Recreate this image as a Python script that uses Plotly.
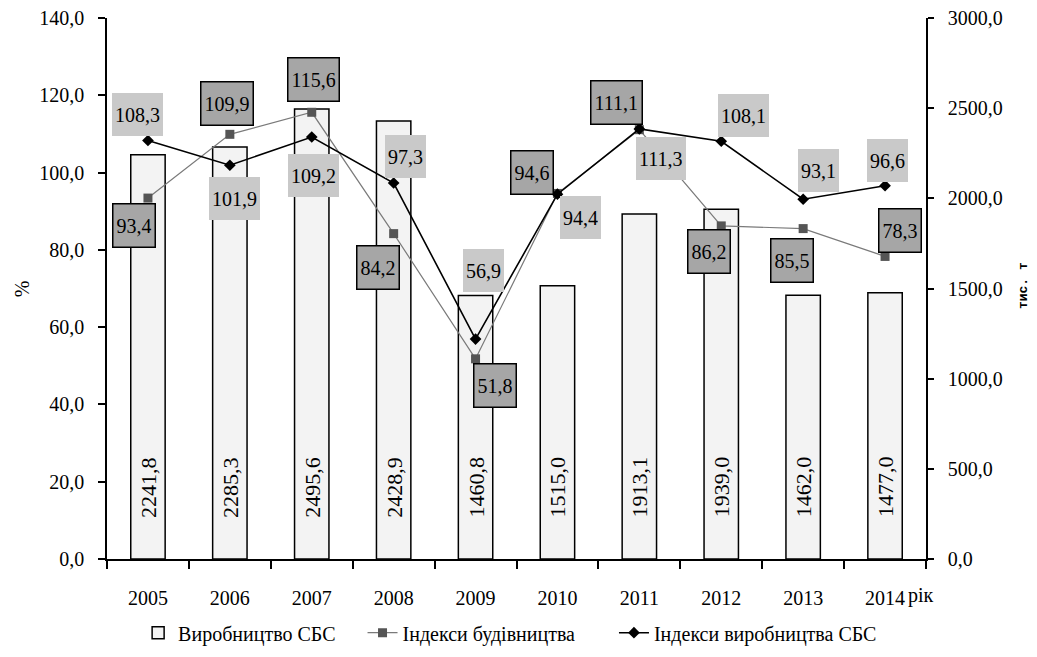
import plotly.graph_objects as go

# ---- data ----
years = ["2005", "2006", "2007", "2008", "2009", "2010", "2011", "2012", "2013", "2014"]
output_sbs = [2241.8, 2285.3, 2495.6, 2428.9, 1460.8, 1515.0, 1913.1, 1939.0, 1462.0, 1477.0]
construction_index = [93.4, 109.9, 115.6, 84.2, 51.8, 94.6, 111.1, 86.2, 85.5, 78.3]
production_index = [108.3, 101.9, 109.2, 97.3, 56.9, 94.4, 111.3, 108.1, 93.1, 96.6]

# label placement (pixel offsets from each point: dx right, dy down)
construction_label_offsets = [(-14, 27), (-3, -31), (2, -33), (-16, 34), (19, 27),
                              (-25, -21), (-23, -27), (-12, 26), (-11, 32), (15, -26)]
production_label_offsets = [(-10, -26), (5, 33), (2, 38), (12, -27), (8, -69),
                            (23, 23), (22, 30), (22, -26), (15, -29), (2, -25)]

SERIF = "Liberation Serif"
FS = 20


def fmt(v):
    return f"{v:.1f}".replace(".", ",")


fig = go.Figure()

fig.add_trace(go.Bar(
    x=years, y=output_sbs, yaxis="y", name="Виробництво СБС",
    width=0.42,
    marker=dict(color="#f3f3f3", line=dict(color="black", width=1.5)),
    legend="legend",
))

fig.add_trace(go.Scatter(
    x=years, y=construction_index, yaxis="y2", name="Індекси будівництва",
    mode="lines+markers",
    line=dict(color="#7a7a7a", width=1.2),
    marker=dict(symbol="square", size=9, color="#555555"),
    legend="legend2",
))

fig.add_trace(go.Scatter(
    x=years, y=production_index, yaxis="y2", name="Індекси виробництва СБС",
    mode="lines+markers",
    line=dict(color="black", width=1.6),
    marker=dict(symbol="diamond", size=9, color="black"),
    legend="legend3",
))

annotations = []

# values written up the bars (x given as category position)
for i, v in enumerate(output_sbs):
    annotations.append(dict(
        x=i, xref="x", y=0.133, yref="paper", text=fmt(v), textangle=-90,
        xanchor="center", yanchor="middle",
        showarrow=False, font=dict(family=SERIF, size=22, color="black"),
    ))

# boxed index labels
for i, (v, (dx, dy)) in enumerate(zip(construction_index, construction_label_offsets)):
    annotations.append(dict(
        x=i, xref="x", y=v, yref="y2", text=fmt(v), showarrow=False,
        xanchor="center", yanchor="middle",
        xshift=dx, yshift=-dy, height=36, borderpad=3,
        bgcolor="#a6a6a6", bordercolor="black", borderwidth=1.5,
        font=dict(family=SERIF, size=FS, color="black"),
    ))
for i, (v, (dx, dy)) in enumerate(zip(production_index, production_label_offsets)):
    annotations.append(dict(
        x=i, xref="x", y=v, yref="y2", text=fmt(v), showarrow=False,
        xanchor="center", yanchor="middle",
        xshift=dx, yshift=-dy, height=37, borderpad=3,
        bgcolor="#c9c9c9", borderwidth=0,
        font=dict(family=SERIF, size=FS, color="black"),
    ))

# axis titles
annotations.append(dict(x=-0.104, y=0.5, xref="paper", yref="paper", text="%",
                        textangle=-90, showarrow=False, xanchor="center", yanchor="middle",
                        font=dict(family=SERIF, size=FS, color="black")))
annotations.append(dict(x=1.12, y=0.505, xref="paper", yref="paper", text="<b>тис. т</b>",
                        textangle=-90, showarrow=False, xanchor="center", yanchor="middle",
                        font=dict(family="Liberation Mono", size=13, color="black")))
annotations.append(dict(x=0.994, y=-0.068, xref="paper", yref="paper", text="рік",
                        showarrow=False, xanchor="center", yanchor="middle",
                        font=dict(family=SERIF, size=FS, color="black")))

legend_common = dict(orientation="h", yref="container", yanchor="middle", y=0.037,
                     xanchor="left",
                     font=dict(family=SERIF, size=FS, color="black"),
                     bgcolor="rgba(0,0,0,0)", borderwidth=0)

fig.update_layout(
    width=1037, height=657,
    margin=dict(l=107, r=111, t=18, b=98, autoexpand=False),
    paper_bgcolor="white", plot_bgcolor="white",
    separators=", ",
    showlegend=True,
    font=dict(family=SERIF, size=FS, color="black"),
    xaxis=dict(
        type="category", range=[-0.5, 9.5], showgrid=False, zeroline=False,
        showline=True, linecolor="black", linewidth=1.5, automargin=False,
        ticks="outside", tickson="boundaries", ticklen=8, tickwidth=1.5, tickcolor="black",
        tickfont=dict(family=SERIF, size=FS, color="black"), ticklabelstandoff=20,
    ),
    yaxis=dict(
        side="right", range=[0, 3000], dtick=500, tickformat=".1f",
        showgrid=False, zeroline=False, showline=True, linecolor="black", linewidth=1.5,
        automargin=False,
        ticks="outside", ticklen=6, tickwidth=1.5, tickcolor="black",
        tickfont=dict(family=SERIF, size=FS, color="black"), ticklabelstandoff=10,
    ),
    yaxis2=dict(
        overlaying="y", side="left", range=[0, 140], dtick=20, tickformat=".1f",
        showgrid=False, zeroline=False, showline=True, linecolor="black", linewidth=1.5,
        automargin=False,
        ticks="outside", ticklen=7, tickwidth=1.5, tickcolor="black",
        tickfont=dict(family=SERIF, size=FS, color="black"), ticklabelstandoff=10,
    ),
    legend=dict(legend_common, x=0.038),
    legend2=dict(legend_common, x=0.312),
    legend3=dict(legend_common, x=0.619),
    annotations=annotations,
)

fig.write_html("out.html")
